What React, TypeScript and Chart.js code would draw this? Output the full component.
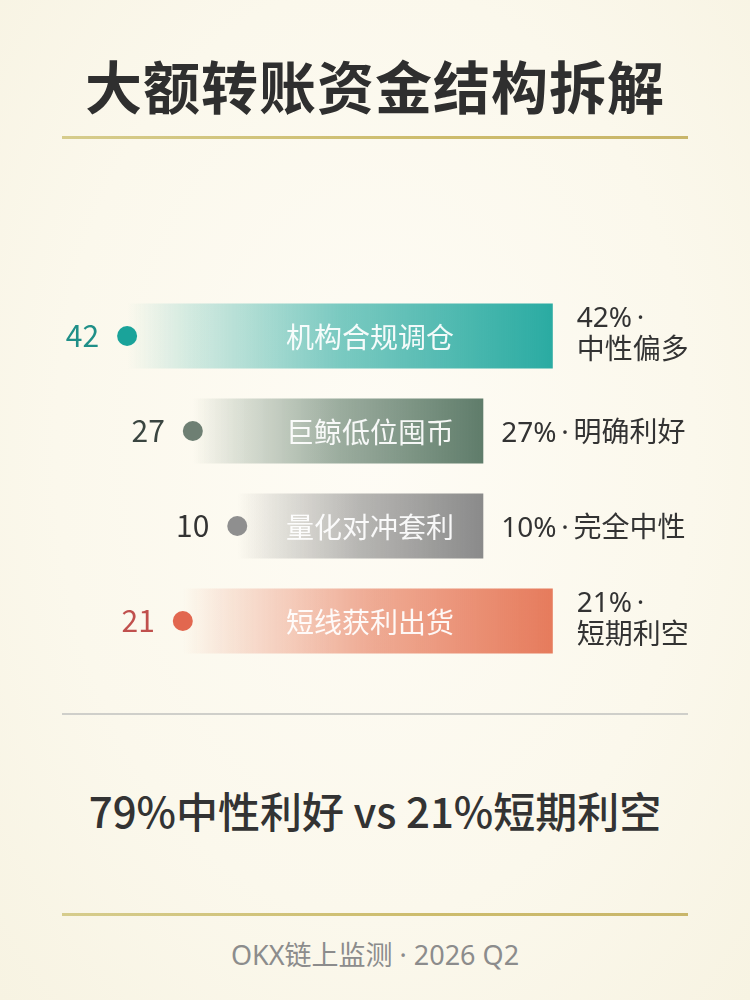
import { useEffect, useRef } from 'react'
import Chart from 'chart.js/auto'

// categories and shares (%)
const categories = ['机构合规调仓', '巨鲸低位囤币', '量化对冲套利', '短线获利出货']
const shares = [42, 27, 10, 21]
// floating bar extents, in % of the plot width
const barStart = [10.4, 20.9, 28.0, 19.3]
const barEnd = [78.4, 67.3, 67.3, 78.4]
const sideLabels = [
  ['42%\u2009·', '中性偏多'],
  ['27%\u2009·\u2009明确利好'],
  ['10%\u2009·\u2009完全中性'],
  ['21%\u2009·', '短期利空'],
]
const barColors = ['#2aaba2', '#5f7c6a', '#8a8a8a', '#e67b5c']
const dotColors = ['#1aa39a', '#6e7f73', '#8f8f8f', '#e2674f']
const valueColors = ['#1f8f88', '#3a4540', '#333333', '#c0504d']
const labelCenter = 49.2

const FONT = '"Noto Sans CJK SC", "Noto Sans", sans-serif'
// latin first so the middle dot stays narrow
const FONT_MIX = '"Noto Sans", "Noto Sans CJK SC", sans-serif'

const rgba = (hex: string, a: number) => {
  const n = parseInt(hex.slice(1), 16)
  return `rgba(${(n >> 16) & 255}, ${(n >> 8) & 255}, ${n & 255}, ${a})`
}

const labelPlugin = {
  id: 'barLabels',
  afterDatasetsDraw(chart: any) {
    const ctx = chart.ctx
    const xs = chart.scales.x
    const bars = chart.getDatasetMeta(1).data
    ctx.save()
    ctx.textBaseline = 'middle'
    bars.forEach((el: any, i: number) => {
      const y = el.y
      const dotX = xs.getPixelForValue(barStart[i])
      const endX = xs.getPixelForValue(barEnd[i])

      // value left of the dot
      ctx.font = `400 30px ${FONT}`
      ctx.fillStyle = valueColors[i]
      ctx.textAlign = 'right'
      ctx.fillText(String(shares[i]), dotX - 28, y)

      // category inside the bar
      ctx.font = `400 28px ${FONT}`
      ctx.fillStyle = 'rgba(255,255,255,0.93)'
      ctx.textAlign = 'center'
      ctx.fillText(categories[i], xs.getPixelForValue(labelCenter), y + 1)

      // share + meaning on the right
      ctx.font = `400 28px ${FONT_MIX}`
      ctx.fillStyle = '#333333'
      ctx.textAlign = 'left'
      const lines = sideLabels[i]
      if (lines.length > 1) {
        lines.forEach((t, k) => {
          ctx.fillText(t, endX + 24, y - 1 + (k - (lines.length - 1) / 2) * 32)
        })
      } else {
        ctx.fillText(lines[0], endX + 18, y + 3)
      }
    })
    ctx.restore()
  },
}

function Line({ top, height, background }: { top: number; height: number; background: string }) {
  return (
    <div style={{ position: 'absolute', left: 62, width: 626, top, height, background }} />
  )
}

export default function App() {
  const canvasRef = useRef<HTMLCanvasElement>(null)

  useEffect(() => {
    document.body.style.margin = '0'
    if (!canvasRef.current) return
    const chart = new Chart(canvasRef.current, {
      type: 'bar',
      data: {
        labels: categories,
        datasets: [
          {
            type: 'line',
            data: barStart.map((v, i) => ({ x: v, y: categories[i] })),
            showLine: false,
            pointRadius: 10,
            pointHoverRadius: 10,
            pointBorderWidth: 0,
            pointBackgroundColor: dotColors,
            order: 0,
          } as any,
          {
            data: barStart.map((s, i) => [s, barEnd[i]]),
            barPercentage: 0.684,
            categoryPercentage: 1,
            borderWidth: 0,
            borderSkipped: false,
            order: 1,
            backgroundColor: (c: any) => {
              const i = c.dataIndex
              const col = barColors[i ?? 0] || barColors[0]
              const xs = c.chart.scales.x
              if (i == null || !xs) return col
              const x0 = xs.getPixelForValue(barStart[i])
              const x1 = xs.getPixelForValue(barEnd[i])
              if (!isFinite(x0) || !isFinite(x1) || x1 <= x0) return col
              const g = c.chart.ctx.createLinearGradient(x0, 0, x1, 0)
              g.addColorStop(0, rgba(col, 0))
              g.addColorStop(0.15, rgba(col, 0.2))
              g.addColorStop(0.5, rgba(col, 0.62))
              g.addColorStop(1, rgba(col, 1))
              return g
            },
          },
        ],
      },
      options: {
        indexAxis: 'y',
        responsive: true,
        maintainAspectRatio: false,
        animation: false,
        layout: { padding: { left: 62, right: 62, top: 38.5, bottom: 41.5 } },
        plugins: {
          legend: { display: false },
          tooltip: { enabled: false },
        },
        scales: {
          x: { type: 'linear', min: 0, max: 100, display: false },
          y: { type: 'category', display: false },
        },
      },
      plugins: [labelPlugin],
    })
    return () => chart.destroy()
  }, [])

  return (
    <div
      style={{
        position: 'relative',
        width: 750,
        height: 1000,
        overflow: 'hidden',
        fontFamily: FONT,
        background: 'radial-gradient(ellipse at 50% 45%, #fefcf5 0%, #fbf8ec 60%, #f7f3e2 100%)',
      }}
    >
      <div
        style={{
          position: 'absolute',
          top: 47,
          width: '100%',
          textAlign: 'center',
          fontSize: 57,
          lineHeight: '74px',
          fontWeight: 700,
          letterSpacing: 1,
          color: '#2f2f2f',
        }}
      >
        大额转账资金结构拆解
      </div>
      <Line top={135.5} height={3} background="linear-gradient(90deg, #d6cc8c, #cdbc6c 60%, #c9b66a)" />

      <div style={{ position: 'absolute', left: 0, top: 250, width: 750, height: 460 }}>
        <canvas ref={canvasRef} />
      </div>

      <Line top={712.5} height={2} background="#cfcfca" />

      <div
        style={{
          position: 'absolute',
          top: 784,
          width: '100%',
          textAlign: 'center',
          fontSize: 42,
          lineHeight: '52px',
          fontWeight: 500,
          color: '#333333',
        }}
      >
        79%中性利好 vs 21%短期利空
      </div>

      <Line top={912.5} height={3} background="linear-gradient(90deg, #d6cc8c, #cdbc6c 60%, #c9b66a)" />

      <div
        style={{
          position: 'absolute',
          top: 936,
          width: '100%',
          textAlign: 'center',
          fontSize: 27,
          lineHeight: '38px',
          color: '#8c8c8c',
          fontFamily: FONT_MIX,
        }}
      >
        OKX链上监测 · 2026 Q2
      </div>
    </div>
  )
}
